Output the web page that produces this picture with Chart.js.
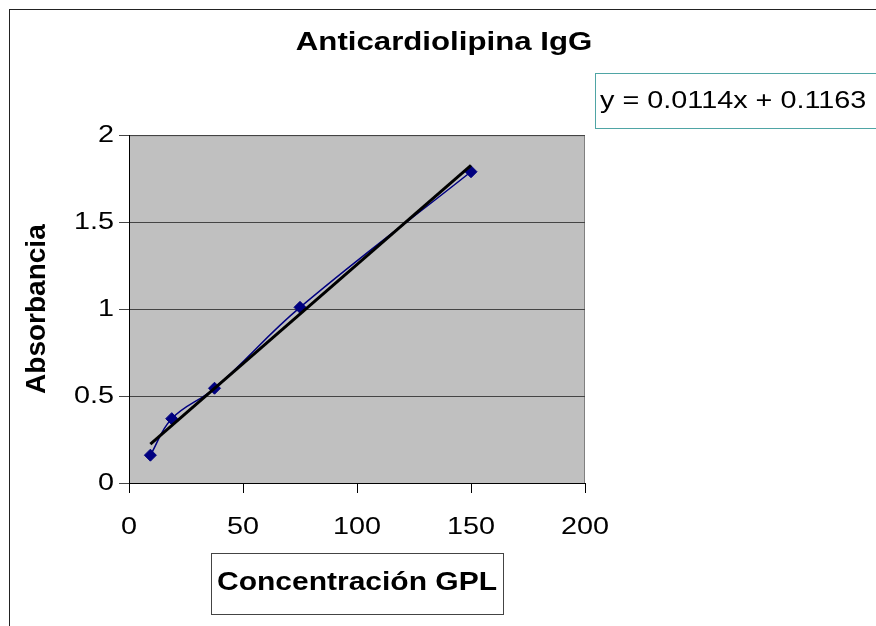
<!DOCTYPE html>
<html><head><meta charset="utf-8">
<script src="https://cdn.jsdelivr.net/npm/chart.js@4.4.0/dist/chart.umd.min.js"></script>
<style>html,body{margin:0;padding:0;background:#fff}#wrap{width:876px;height:626px;position:relative}</style>
</head><body><div id="wrap"><canvas id="c" width="876" height="626"></canvas></div>
<script>
const titleText = 'Anticardiolipina IgG';
const xAxisTitle = 'Concentración GPL';
const yAxisTitle = 'Absorbancia';
const concentration = [9.375, 18.75, 37.5, 75, 150];
const absorbance = [0.16, 0.37, 0.545, 1.01, 1.79];
const xTicks = [0, 50, 100, 150, 200];
const yTicks = [0, 0.5, 1, 1.5, 2];
const slope = 0.0114;
const intercept = 0.1163;

const FONT = "'Liberation Sans', Arial, sans-serif";
const points = concentration.map((x, i) => ({x: x, y: absorbance[i]}));
const xFirst = concentration[0], xLast = concentration[concentration.length - 1];
const trend = [{x: xFirst, y: slope * xFirst + intercept}, {x: xLast, y: slope * xLast + intercept}];

// The reference renders its horizontal text widened; reproduce that for horizontal text.
const STRETCH = 1.2;
const canvas = document.getElementById('c');
const ctx2d = canvas.getContext('2d');
const origFill = CanvasRenderingContext2D.prototype.fillText;
ctx2d.fillText = function (text, x, y, maxWidth) {
  const m = this.getTransform();
  if (Math.abs(m.b) > 1e-6) {
    if (maxWidth !== undefined) origFill.call(this, text, x, y, maxWidth);
    else origFill.call(this, text, x, y);
    return;
  }
  const n = DOMMatrix.fromMatrix(m).translateSelf(x, y).scaleSelf(STRETCH, 1).translateSelf(-x, -y);
  this.setTransform(n);
  if (maxWidth !== undefined) origFill.call(this, text, x, y, maxWidth / STRETCH);
  else origFill.call(this, text, x, y);
  this.setTransform(m);
};

const decorPlugin = {
  id: 'decor',
  beforeDraw(c) {
    const {ctx, chartArea: a} = c;
    ctx.save();
    ctx.fillStyle = '#fff';
    ctx.fillRect(0, 0, c.width, c.height);
    ctx.strokeStyle = '#222';
    ctx.lineWidth = 1;
    ctx.strokeRect(9.5, 9.5, 1000, 1000);
    ctx.fillStyle = '#C0C0C0';
    ctx.fillRect(a.left, a.top, a.right - a.left, a.bottom - a.top);
    ctx.strokeStyle = '#808080';
    ctx.beginPath();
    ctx.moveTo(a.left, a.top + 0.5); ctx.lineTo(a.right - 0.5, a.top + 0.5); ctx.lineTo(a.right - 0.5, a.bottom);
    ctx.stroke();
    ctx.restore();
  },
  afterDraw(c) {
    const {ctx, chartArea: a} = c;
    ctx.save();
    const cx = (a.left + a.right) / 2;
    ctx.strokeStyle = '#444';
    ctx.lineWidth = 1;
    ctx.strokeRect(Math.round(cx - 146) + 0.5, 553.5, 292, 61);
    ctx.strokeStyle = '#4FA5A5';
    ctx.strokeRect(a.right + 10.5, 73.5, 400, 55);
    ctx.fillStyle = '#000';
    ctx.font = '24px ' + FONT;
    ctx.textBaseline = 'middle';
    ctx.textAlign = 'left';
    ctx.fillText('y = ' + slope + 'x + ' + intercept, a.right + 15, 101);
    ctx.restore();
  }
};

new Chart(canvas, {
  type: 'scatter',
  data: {
    datasets: [
      {label: 'Lineal', data: trend, showLine: true, borderColor: '#000', borderWidth: 3,
       pointRadius: 0, order: 0},
      {label: yAxisTitle, data: points, showLine: true, tension: 0.4, borderColor: '#000080',
       borderWidth: 1.5, backgroundColor: '#000080', pointBackgroundColor: '#000080',
       pointBorderColor: '#000080', pointStyle: 'rectRot', pointRadius: 6, pointBorderWidth: 1, order: 1}
    ]
  },
  options: {
    responsive: false, animation: false, devicePixelRatio: 1,
    layout: {padding: {left: 12, right: 0, top: 0, bottom: 0}},
    plugins: {
      legend: {display: false}, tooltip: {enabled: false},
      title: {display: true, text: titleText, color: '#000',
        font: {family: FONT, size: 26, weight: 'bold', lineHeight: 1.2},
        padding: {top: 27, bottom: 77}}
    },
    scales: {
      x: {
        type: 'linear', min: 0, max: 200,
        afterBuildTicks: s => { s.ticks = xTicks.map(v => ({value: v})); },
        afterFit: s => { s.height = 143; },
        grid: {drawOnChartArea: false, drawTicks: true, tickLength: 10, color: '#000'},
        border: {display: true, color: '#000', width: 1},
        ticks: {color: '#000', padding: 20, maxRotation: 0, autoSkip: false,
          font: {family: FONT, size: 24}, callback: v => String(v)},
        title: {display: true, text: xAxisTitle, color: '#000',
          font: {family: FONT, size: 25, weight: 'bold', lineHeight: 1.2}, padding: {top: 0, bottom: 28}}
      },
      y: {
        type: 'linear', min: 0, max: 2,
        afterBuildTicks: s => { s.ticks = yTicks.map(v => ({value: v})); },
        afterFit: s => { s.width = 117; },
        grid: {drawOnChartArea: true, drawTicks: true, tickLength: 10, color: '#444'},
        border: {display: true, color: '#000', width: 1},
        ticks: {color: '#000', padding: 5, autoSkip: false,
          font: {family: FONT, size: 24}, callback: v => String(v)},
        title: {display: true, text: yAxisTitle, color: '#000',
          font: {family: FONT, size: 28, weight: 'bold', lineHeight: 1.2}, padding: {top: 8, bottom: 0}}
      },
      yR: {
        type: 'linear', position: 'right', display: false,
        afterFit: s => { s.width = 291; }
      }
    }
  },
  plugins: [decorPlugin]
});
</script></body></html>
